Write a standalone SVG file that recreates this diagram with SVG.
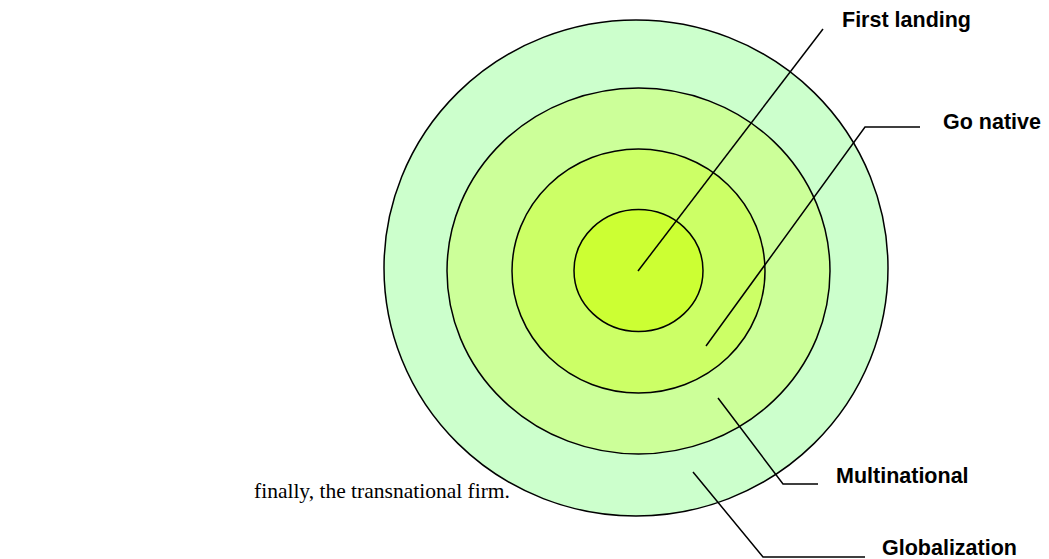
<svg xmlns="http://www.w3.org/2000/svg" width="1049" height="559" viewBox="0 0 1049 559">
<style>
.ring{stroke:#000;stroke-width:1.5}
.lbl{font-family:"Liberation Sans",Arial,sans-serif;font-weight:bold;font-size:21.5px;fill:#000}
.body{font-family:"Liberation Serif","Times New Roman",serif;font-size:21.5px;fill:#000}
.conn{fill:none;stroke:#000;stroke-width:1.5}
</style>
<rect width="1049" height="559" fill="#fff"/>
<text class="body" x="254" y="498">finally, the transnational firm.</text>
<g id="globalization-ring"><ellipse class="ring" cx="636" cy="268" rx="252" ry="248" fill="#CCFFCC"/></g>
<g id="multinational-ring"><ellipse class="ring" cx="638.5" cy="271" rx="191.5" ry="183" fill="#CCFF99" stroke-width="2.5"/></g>
<g id="go-native-ring"><ellipse class="ring" cx="638.5" cy="271" rx="126.5" ry="122" fill="#CCFF66"/></g>
<g id="first-landing-ring"><ellipse class="ring" cx="638.5" cy="270.5" rx="64.5" ry="61" fill="#CCFF33"/></g>
<g id="connectors">
<polyline class="conn" points="638,271 823,29"/>
<polyline class="conn" points="706,346 865,127 920,127"/>
<polyline class="conn" points="718,398 783,484 818,484"/>
<polyline class="conn" points="693,472 763,557 865,557"/>
</g>
<g id="label-first-landing"><text class="lbl" x="842" y="27">First landing</text></g>
<g id="label-go-native"><text class="lbl" x="943" y="129">Go native</text></g>
<g id="label-multinational"><text class="lbl" x="836" y="483">Multinational</text></g>
<g id="label-globalization"><text class="lbl" x="882" y="555">Globalization</text></g>
</svg>
